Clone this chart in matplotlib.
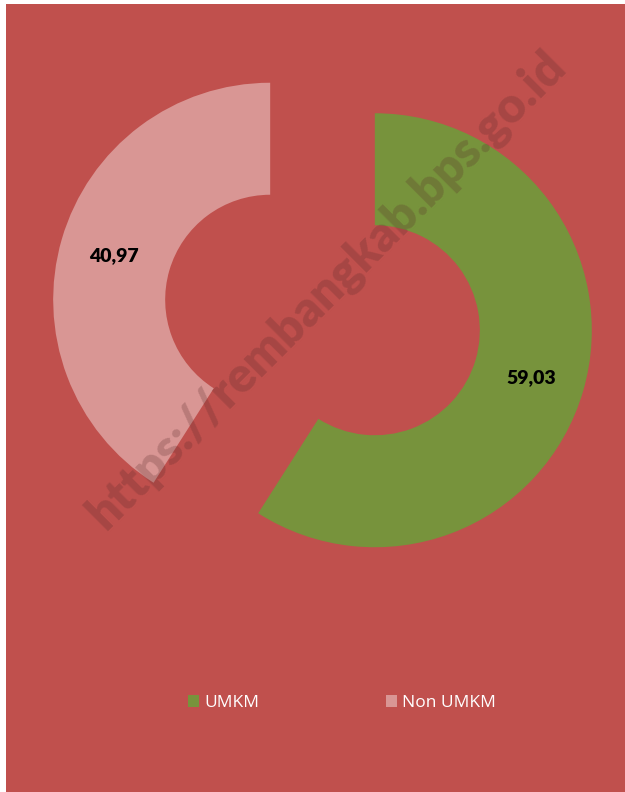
import matplotlib.pyplot as plt
from matplotlib.patches import Patch, Rectangle

# data
categories = ["UMKM", "Non UMKM"]
values = [59.03, 40.97]
colors = ["#77933C", "#D99694"]
bg = "#C0504D"

W, H = 625, 792
fig = plt.figure(figsize=(W / 100, H / 100), dpi=100)
fig.patch.set_facecolor("white")
# red panel with thin white margin on left/top
fig.patches.append(Rectangle((6 / W, 0), 1 - 6 / W, 1 - 4 / H,
                             transform=fig.transFigure, facecolor=bg,
                             edgecolor="none", zorder=-1))

ax = fig.add_axes([0, 0, 1, 1])
ax.patch.set_alpha(0)

labels = [f"{v:.2f}".replace(".", ",") for v in values]
wedges, texts = ax.pie(
    values,
    colors=colors,
    startangle=90,
    counterclock=False,
    radius=217,
    center=(322.5, H - 315),
    explode=[54.5, 54.5],
    labels=labels,
    labeldistance=0.75,
    wedgeprops=dict(width=112, edgecolor="none"),
    textprops=dict(fontsize=14, fontweight="heavy", color="black",
                   family="Lato"),
    frame=True,
)
for t in texts:
    t.set_ha("center")
    t.set_va("center_baseline")
ax.set_xlim(0, W)
ax.set_ylim(0, H)
ax.set_aspect("equal")
ax.axis("off")

# watermark
ax.text(327, H - 290, "https://rembangkab.bps.go.id", rotation=45,
        ha="center", va="center", fontsize=35, fontweight="heavy",
        family="Lato", color="#5a2a2a", alpha=0.25, zorder=5)

handles = [Patch(facecolor=c, edgecolor="none") for c in colors]
fig.legend(handles, categories, loc="center", bbox_to_anchor=(0.547, 1 - 703 / H),
           ncol=2, frameon=False, columnspacing=7.3, handlelength=0.65,
           handleheight=0.65, handletextpad=0.3,
           prop=dict(family="Open Sans", size=12.5), labelcolor="white")

fig.savefig("out.png", dpi=100, facecolor=fig.get_facecolor())
